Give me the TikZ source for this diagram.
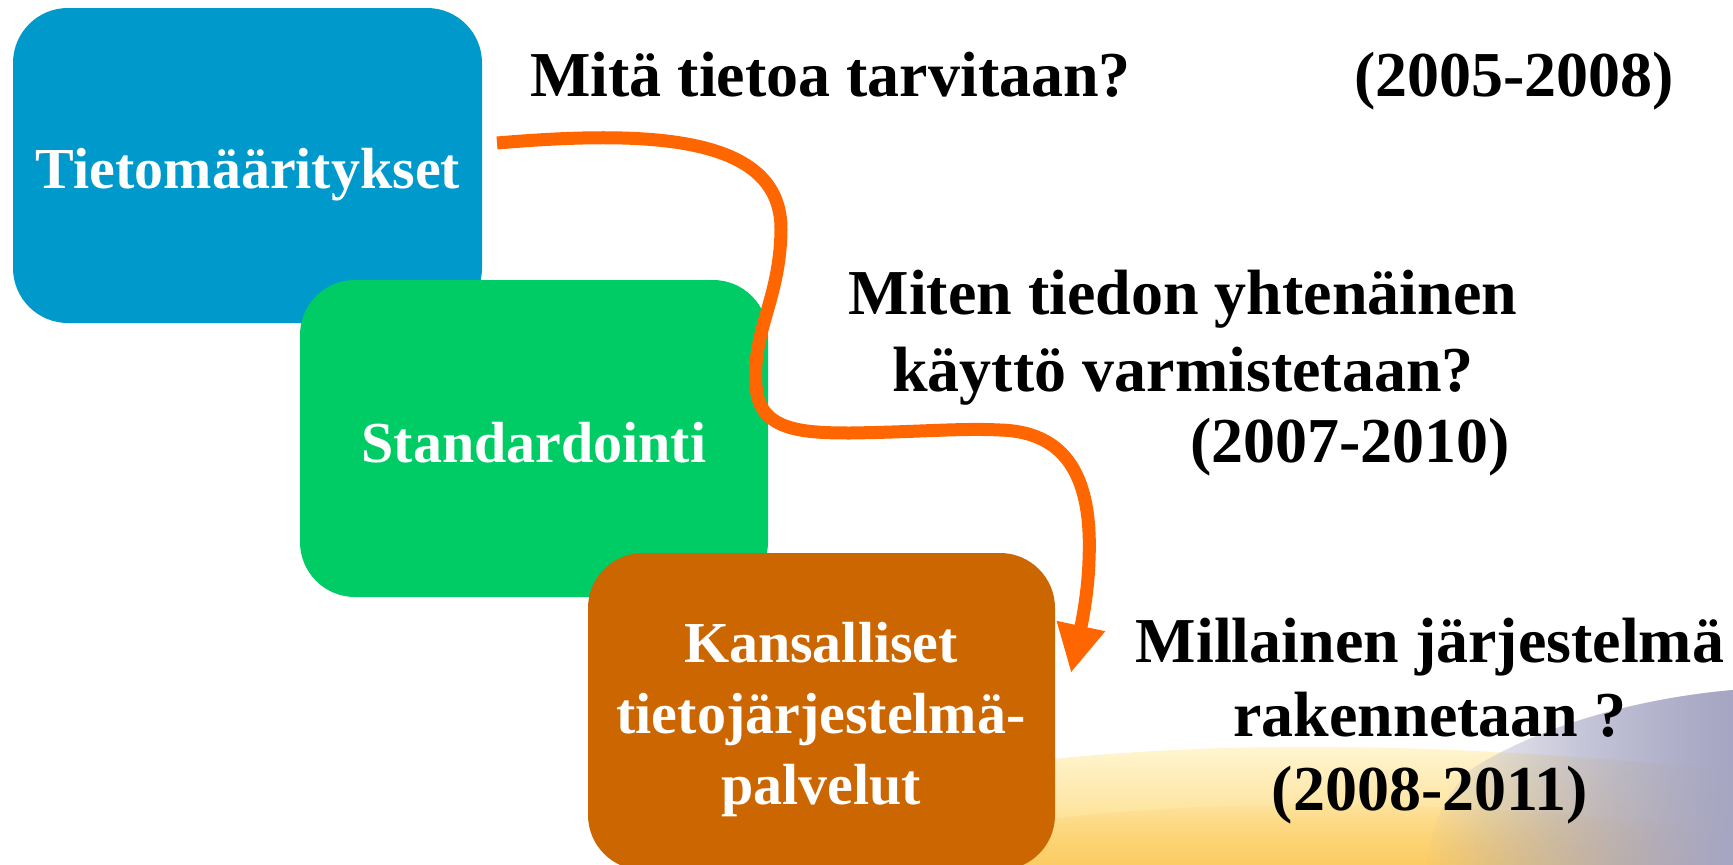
\documentclass[tikz,border=0pt]{standalone}
\usepackage{fontspec}
\setmainfont{Liberation Serif}
\usetikzlibrary{arrows.meta,fadings}
\definecolor{cblue}{HTML}{0099CC}
\definecolor{cgreen}{HTML}{00CC66}
\definecolor{cbrown}{HTML}{CC6600}
\definecolor{corange}{HTML}{FF6600}
\definecolor{cyell}{HTML}{FDD676}
\definecolor{cyelldeep}{HTML}{FCCB62}
\definecolor{cyelllight}{HTML}{FFF7D6}
\definecolor{clav}{HTML}{A6A6C4}
\tikzfading[name=fadeleft, left color=transparent!100, right color=transparent!0]
\tikzfading[name=fadetop, top color=transparent!100, bottom color=transparent!0]
\tikzset{
  box/.style={rounded corners=55pt, inner sep=0pt},
  boxtext/.style={text=white, font=\fontsize{58}{71}\selectfont\bfseries, align=center, anchor=base, inner sep=0pt},
  qtext/.style={text=black, font=\fontsize{64}{74}\selectfont\bfseries, align=center, anchor=base, inner sep=0pt},
  flow/.style={draw=corange, line width=13pt, line join=round, -{Triangle[length=48pt,width=46pt]}}
}
\begin{document}
\begin{tikzpicture}[x=1pt,y=-1pt]
\useasboundingbox (0,0) rectangle (1733,865);
\fill[white] (0,0) rectangle (1733,865);
% background swooshes
\shade[top color=cyelllight, bottom color=cyell] (1000,765) .. controls (1200,740) and (1420,740) .. (1733,770) -- (1733,865) -- (1000,865) -- cycle;
\fill[cyelldeep, path fading=fadetop, opacity=0.8] (1000,825) .. controls (1200,798) and (1420,796) .. (1733,830) -- (1733,865) -- (1000,865) -- cycle;
\fill[clav, path fading=fadeleft] (1733,690) .. controls (1640,698) and (1540,725) .. (1470,770) .. controls (1440,800) and (1430,835) .. (1425,865) -- (1733,865) -- cycle;
\fill[clav, path fading=fadeleft, opacity=0.5] (1733,690) .. controls (1640,698) and (1540,725) .. (1470,770) .. controls (1440,800) and (1430,835) .. (1425,865) -- (1733,865) -- cycle;
% boxes
\fill[cblue, box] (13,8) rectangle (482,323);
\fill[cgreen, box] (300,280) rectangle (768,597);
\fill[cbrown, box] (588,553) rectangle (1055,870);
\node[boxtext] (t1) at (248,188) {Tietomääritykset};
\node[boxtext] (t2) at (534,462) {Standardointi};
\node[boxtext] (t3) at (821,804) {Kansalliset\\tietojärjestelmä-\\palvelut};
% questions
\node[qtext, anchor=base west] (q1) at (530,96) {Mitä tietoa tarvitaan?};
\node[qtext, anchor=base west] (y1) at (1354,96) {(2005-2008)};
\node[qtext, font=\fontsize{64}{77}\selectfont\bfseries] (q2) at (1183,391) {Miten tiedon yhtenäinen\\käyttö varmistetaan?};
\node[qtext] (y2) at (1350,462) {(2007-2010)};
\node[qtext] (q3) at (1430,810) {Millainen järjestelmä\\rakennetaan ?\\(2008-2011)};
% arrow
\coordinate (s) at (497,143);
\coordinate (e) at (1071,673);
\draw[flow] (s) .. controls (650,130) and (782,135) .. (781,230)
  .. controls (780,300) and (752,330) .. (756,385)
  .. controls (758,430) and (800,433) .. (850,433)
  .. controls (920,432) and (960,428) .. (1000,430)
  .. controls (1075,432) and (1092,490) .. (1089,560)
  .. controls (1088,600) and (1078,640) .. (e);
\end{tikzpicture}
\end{document}
